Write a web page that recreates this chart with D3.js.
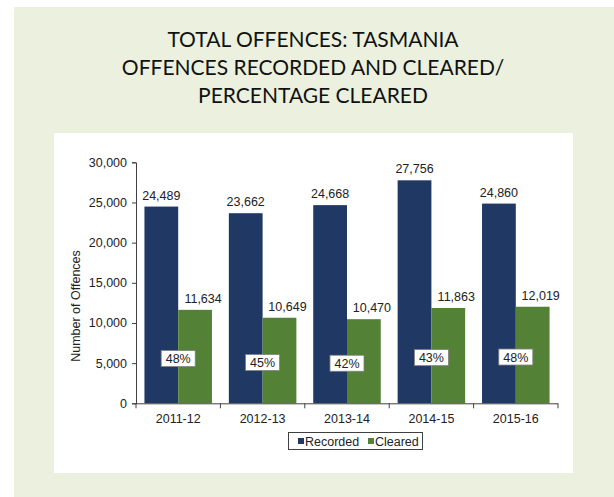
<!DOCTYPE html>
<html><head><meta charset="utf-8">
<script src="https://cdn.jsdelivr.net/npm/d3@7/dist/d3.min.js"></script>
<style>
html,body{margin:0;padding:0;background:#fff;}
svg{display:block;}
text{font-family:Arial,"Liberation Sans",sans-serif;}
</style></head>
<body><div id="chart"></div>
<script>
const titleLines = ["TOTAL OFFENCES: TASMANIA","OFFENCES RECORDED AND CLEARED/","PERCENTAGE CLEARED"];
const categories = ["2011-12","2012-13","2013-14","2014-15","2015-16"];
const seriesNames = ["Recorded","Cleared"];
const recorded = [24489,23662,24668,27756,24860];
const cleared = [11634,10649,10470,11863,12019];
const pctCleared = ["48%","45%","42%","43%","48%"];
const yTicks = [0,5000,10000,15000,20000,25000,30000];
const yLabel = "Number of Offences";
const colors = {Recorded:"#1F3864", Cleared:"#538135"};

(function(){
const W=614,H=497,FS="12.5px";
const svg=d3.select("#chart").append("svg").attr("width",W).attr("height",H);
svg.append("rect").attr("x",14).attr("y",7).attr("width",W-14).attr("height",H-7).attr("fill","#EBF1DE");
svg.append("rect").attr("x",54).attr("y",133).attr("width",519).attr("height",340).attr("fill","#fff");

// title
svg.append("g").selectAll("text").data(titleLines).join("text")
  .attr("x",313).attr("y",(d,i)=>47+i*28).attr("text-anchor","middle")
  .style("font-family","Lato, 'Open Sans', sans-serif").style("font-size","21px").attr("fill","#111")
  .text(d=>d);

const pLeft=136,pRight=558,pTop=162.3,pBottom=403.3;
const x=d3.scaleBand().domain(categories).range([pLeft,pRight]).padding(0);
const xi=d3.scaleBand().domain(seriesNames).range([0,x.bandwidth()]).paddingInner(0).paddingOuter(0.25);
const y=d3.scaleLinear().domain([0,30000]).range([pBottom,pTop]);

const data=categories.map((c,i)=>({cat:c,Recorded:recorded[i],Cleared:cleared[i],pct:pctCleared[i]}));

// bars
const g=svg.append("g");
const groups=g.selectAll("g.grp").data(data).join("g").attr("class","grp")
  .attr("transform",d=>`translate(${x(d.cat)},0)`);
groups.selectAll("rect").data(d=>seriesNames.map(s=>({s,v:d[s]}))).join("rect")
  .attr("x",d=>xi(d.s)).attr("width",xi.bandwidth())
  .attr("y",d=>y(d.v)).attr("height",d=>y(0)-y(d.v))
  .attr("fill",d=>colors[d.s]);
// value labels
groups.selectAll("text.val").data(d=>seriesNames.map(s=>({s,v:d[s]}))).join("text").attr("class","val")
  .attr("x",d=>xi(d.s)+xi.bandwidth()/2+(d.s==="Cleared"?8:0))
  .attr("y",d=>y(d.v)-7).attr("text-anchor","middle")
  .style("font-size",FS).attr("fill","#222")
  .text(d=>d3.format(",")(d.v));
// percentage boxes
const pg=groups.append("g").attr("transform",d=>`translate(${xi("Cleared")},${y(d.Cleared/2)+2})`);
pg.append("rect").attr("x",-17).attr("y",-8).attr("width",34).attr("height",16)
  .attr("fill","#fff").attr("stroke","#808080").attr("stroke-width",0.8);
pg.append("text").attr("x",0).attr("y",4.5).attr("text-anchor","middle")
  .style("font-size",FS).attr("fill","#222").text(d=>d.pct);

// axes
const yAxis=svg.append("g").attr("transform",`translate(${pLeft},0)`)
  .call(d3.axisLeft(y).tickValues(yTicks).tickFormat(d3.format(",")).tickSize(4).tickPadding(5));
const xAxis=svg.append("g").attr("transform",`translate(0,${pBottom})`)
  .call(d3.axisBottom(x).tickSize(0).tickPadding(11));
[yAxis,xAxis].forEach(a=>{
  a.select(".domain").attr("stroke","#404040");
  a.selectAll(".tick line").attr("stroke","#404040");
  a.selectAll("text").style("font-size",FS).style("font-family","Arial,'Liberation Sans',sans-serif").attr("fill","#222");
});
xAxis.select(".domain").attr("d",`M${pLeft},0.5H${pRight}`);
// category boundary ticks
xAxis.append("g").selectAll("line").data(categories.concat(["end"])).join("line")
  .attr("x1",(d,i)=>pLeft+i*x.bandwidth()).attr("x2",(d,i)=>pLeft+i*x.bandwidth())
  .attr("y1",0).attr("y2",5).attr("stroke","#404040");

// y label
svg.append("text").attr("transform","translate(80,306) rotate(-90)").attr("text-anchor","middle")
  .style("font-size",FS).attr("fill","#222").text(yLabel);

// legend
const lg=svg.append("g");
lg.append("rect").attr("x",288.5).attr("y",432.5).attr("width",134).attr("height",17)
  .attr("fill","#fff").attr("stroke","#404040").attr("stroke-width",1);
const lx=[298,368];
seriesNames.forEach((s,i)=>{
  lg.append("rect").attr("x",lx[i]).attr("y",438).attr("width",6).attr("height",6).attr("fill",colors[s]);
  lg.append("text").attr("x",lx[i]+7).attr("y",445.5).style("font-size",FS).attr("fill","#222").text(s);
});
})();
</script></body></html>
